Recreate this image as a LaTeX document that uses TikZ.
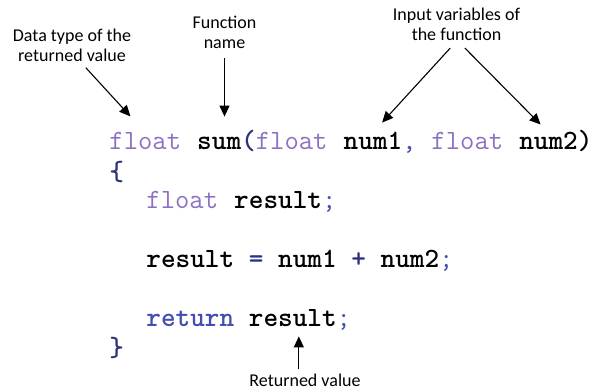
\documentclass[tikz,border=0pt]{standalone}
\usepackage{fontspec}
\setmainfont{Carlito}
\usetikzlibrary{arrows.meta}
\definecolor{typecol}{RGB}{140,112,196}
\definecolor{opcol}{RGB}{68,78,176}
\definecolor{bracecol}{RGB}{44,50,124}
\newcommand{\chw}{14.64}
\tikzstyle{note}=[font=\fontsize{9}{10}\selectfont,align=center,inner sep=2pt]
\tikzstyle{code}=[font=\ttfamily\fontsize{13.94}{16}\selectfont,anchor=base west,inner sep=0pt,text height=8pt,text depth=2pt]
\tikzstyle{pointer}=[-{Triangle[length=5.5pt,width=5pt]},line width=0.55pt]

\begin{document}
\begin{tikzpicture}[x=0.5pt,y=-0.5pt]
  \useasboundingbox (0,0) rectangle (598,390);
  % notes
  \node[note] (dtype) at (72,45.5) {Data type of the\\returned value};
  \node[note] (funcname) at (224.5,32.5) {Function\\name};
  \node[note] (inputs) at (456.5,24.5) {Input variables of\\the function};
  \node[note] (retval) at (305,380) {Returned value};
  % header line
  \node[code,text=typecol] (rtype) at (109,149) {float};
  \node[code] (fname) at (109+6*\chw,149) {\bfseries sum};
  \node[code,text=bracecol] (lpar) at (109+9*\chw,149) {\bfseries (};
  \node[code,text=typecol] (atype1) at (109+10*\chw,149) {float};
  \node[code] (arg1) at (109+16*\chw,149) {\bfseries num1};
  \node[code,text=opcol] (comma) at (109+20*\chw,149) {,};
  \node[code,text=typecol] (atype2) at (109+22*\chw,149) {float};
  \node[code] (arg2) at (109+28*\chw,149) {\bfseries num2};
  \node[code] (rpar) at (109+32*\chw,149) {\bfseries )};
  % body
  \node[code,text=bracecol] (lbrace) at (109,180) {\bfseries \{};
  \node[code,text=typecol] (vtype) at (146,208) {float};
  \node[code] (var) at (146+6*\chw,208) {\bfseries result};
  \node[code,text=opcol] (semi1) at (146+12*\chw,208) {;};
  \node[code] (lhs) at (146,267) {\bfseries result};
  \node[code,text=bracecol] (eq) at (146+7*\chw,267) {\bfseries =};
  \node[code] (op1) at (146+9*\chw,267) {\bfseries num1};
  \node[code,text=bracecol] (plus) at (146+14*\chw,267) {\bfseries +};
  \node[code] (op2) at (146+16*\chw,267) {\bfseries num2};
  \node[code,text=opcol] (semi2) at (146+20*\chw,267) {;};
  \node[code,text=opcol] (ret) at (146,326) {\bfseries return};
  \node[code] (res) at (146+7*\chw,326) {\bfseries result};
  \node[code,text=opcol] (semi3) at (146+13*\chw,326) {;};
  \node[code,text=bracecol] (rbrace) at (109,356) {\bfseries \}};
  % pointers
  \draw[pointer,shorten <=1pt,shorten >=11pt] (dtype.-59) -- (rtype.north);
  \draw[pointer,shorten <=2.5pt,shorten >=8pt] (funcname.south) -- (funcname.south |- fname.north);
  \draw[pointer,shorten <=2pt,shorten >=6.8pt] (inputs.-100) -- (arg1.north);
  \draw[pointer,shorten <=2pt,shorten >=5.7pt] (inputs.-75) -- (arg2.north);
  \draw[pointer,shorten >=3pt] (retval.120) -- (retval.120 |- res.south);
\end{tikzpicture}
\end{document}
